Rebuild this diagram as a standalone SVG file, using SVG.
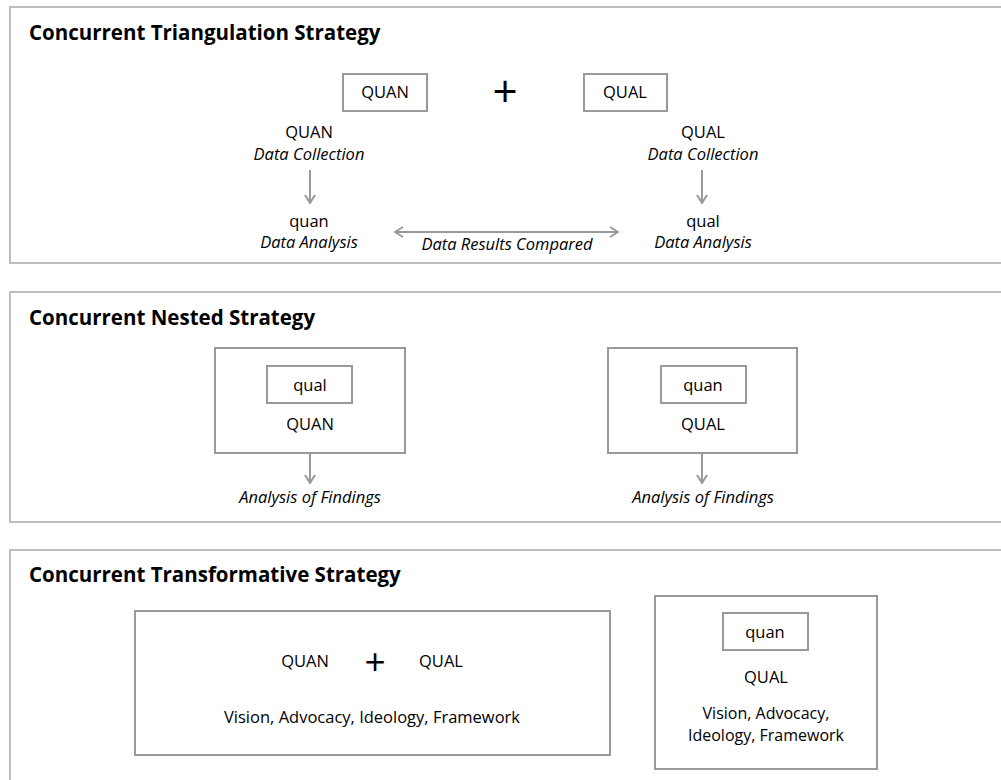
<svg xmlns="http://www.w3.org/2000/svg" width="1001" height="780" viewBox="0 0 1001 780">
  <style>
    text { font-family: "Open Sans", "Noto Sans", "Liberation Sans", sans-serif; fill: #000; }
    .title { font-size: 20.5px; font-weight: bold; }
    .lbl { font-size: 16.5px; text-anchor: middle; }
    .lbl-s { font-size: 16px; text-anchor: middle; }
    .it { font-style: italic; }
    .plus { font-size: 44px; text-anchor: middle; }
    .plus-s { font-size: 37px; text-anchor: middle; }
    .panel { fill: #fff; stroke: #bdbdbd; stroke-width: 2; }
    .box { fill: #fff; stroke: #999; stroke-width: 2; }
    .conn { fill: none; stroke: #999; stroke-width: 2; }
  </style>
  <defs>
    <marker id="head" viewBox="0 0 12 12" refX="11" refY="6" markerWidth="12" markerHeight="12" markerUnits="userSpaceOnUse" orient="auto-start-reverse">
      <path d="M3,1 L11,6 L3,11" fill="none" stroke="#999" stroke-width="2"/>
    </marker>
  </defs>
  <rect width="1001" height="780" fill="#fff"/>

  <!-- Panel 1: concurrent triangulation -->
  <g id="panel-triangulation">
    <rect class="panel" x="10" y="7" width="1010" height="256"/>
    <text class="title" x="29" y="40">Concurrent Triangulation Strategy</text>
  </g>
  <g id="tri-quan-box">
    <rect class="box" x="343" y="74" width="84" height="37"/>
    <text class="lbl" x="385" y="98">QUAN</text>
  </g>
  <g id="tri-plus">
    <text class="plus" x="505" y="107">+</text>
  </g>
  <g id="tri-qual-box">
    <rect class="box" x="584" y="74" width="83" height="37"/>
    <text class="lbl" x="625" y="98">QUAL</text>
  </g>
  <g id="tri-quan-collect">
    <text class="lbl" x="309" y="138">QUAN</text>
    <text class="lbl it" x="309" y="160">Data Collection</text>
  </g>
  <g id="tri-qual-collect">
    <text class="lbl" x="703" y="138">QUAL</text>
    <text class="lbl it" x="703" y="160">Data Collection</text>
  </g>
  <g id="tri-quan-analysis">
    <text class="lbl" x="309" y="227">quan</text>
    <text class="lbl it" x="309" y="248">Data Analysis</text>
  </g>
  <g id="tri-qual-analysis">
    <text class="lbl" x="703" y="227">qual</text>
    <text class="lbl it" x="703" y="248">Data Analysis</text>
  </g>
  <g id="tri-compare-label">
    <text class="lbl it" x="507" y="250">Data Results Compared</text>
  </g>

  <!-- Panel 2: concurrent nested -->
  <g id="panel-nested">
    <rect class="panel" x="10" y="292" width="1010" height="230"/>
    <text class="title" x="29" y="325">Concurrent Nested Strategy</text>
  </g>
  <g id="nested-quan">
    <rect class="box" x="215" y="348" width="190" height="105"/>
    <rect class="box" x="267" y="366" width="85" height="37"/>
    <text class="lbl" x="310" y="391">qual</text>
    <text class="lbl" x="310" y="430">QUAN</text>
  </g>
  <g id="nested-quan-findings">
    <text class="lbl it" x="310" y="503">Analysis of Findings</text>
  </g>
  <g id="nested-qual">
    <rect class="box" x="608" y="348" width="189" height="105"/>
    <rect class="box" x="661" y="366" width="85" height="37"/>
    <text class="lbl" x="703" y="391">quan</text>
    <text class="lbl" x="703" y="430">QUAL</text>
  </g>
  <g id="nested-qual-findings">
    <text class="lbl it" x="703" y="503">Analysis of Findings</text>
  </g>

  <!-- Panel 3: concurrent transformative -->
  <g id="panel-transformative">
    <rect class="panel" x="10" y="550" width="1010" height="250"/>
    <text class="title" x="29" y="582">Concurrent Transformative Strategy</text>
  </g>
  <g id="trans-combined">
    <rect class="box" x="135" y="611" width="475" height="144"/>
    <text class="lbl" x="305" y="667">QUAN</text>
    <text class="plus-s" x="375" y="675">+</text>
    <text class="lbl" x="441" y="667">QUAL</text>
    <text class="lbl" x="372" y="723">Vision, Advocacy, Ideology, Framework</text>
  </g>
  <g id="trans-embedded">
    <rect class="box" x="655" y="596" width="222" height="173"/>
    <rect class="box" x="723" y="613" width="85" height="37"/>
    <text class="lbl" x="765" y="638">quan</text>
    <text class="lbl" x="766" y="683">QUAL</text>
    <text class="lbl-s" x="766" y="719">Vision, Advocacy,</text>
    <text class="lbl-s" x="766" y="741">Ideology, Framework</text>
  </g>

  <!-- Connectors -->
  <g id="connectors">
    <line class="conn" x1="310" y1="170" x2="310" y2="203" marker-end="url(#head)"/>
    <line class="conn" x1="702" y1="170" x2="702" y2="203" marker-end="url(#head)"/>
    <line class="conn" x1="395" y1="232" x2="618" y2="232" marker-start="url(#head)" marker-end="url(#head)"/>
    <line class="conn" x1="310" y1="453" x2="310" y2="483" marker-end="url(#head)"/>
    <line class="conn" x1="702" y1="453" x2="702" y2="483" marker-end="url(#head)"/>
  </g>
</svg>
